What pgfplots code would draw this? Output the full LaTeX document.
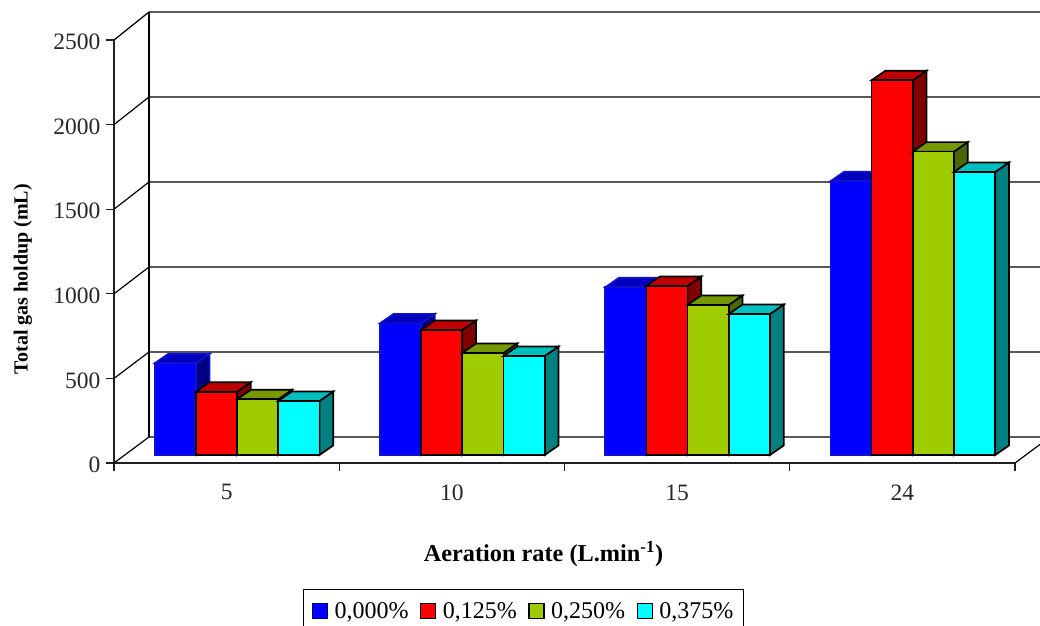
\documentclass[border=0pt]{standalone}
\usepackage{fontspec}
\setmainfont{Liberation Serif}
\usepackage{pgfplots}
\usepackage{pgfplotstable}
\pgfplotsset{compat=1.18}

\definecolor{blueF}{HTML}{0000FF}\definecolor{blueT}{HTML}{0000BF}\definecolor{blueS}{HTML}{000080}\definecolor{blueE}{HTML}{1010D0}
\definecolor{redF}{HTML}{FF0000}\definecolor{redT}{HTML}{BF0000}\definecolor{redS}{HTML}{800000}
\definecolor{greenF}{HTML}{9ECC00}\definecolor{greenT}{HTML}{769900}\definecolor{greenS}{HTML}{4F6600}
\definecolor{cyanF}{HTML}{00FFFF}\definecolor{cyanT}{HTML}{00BFBF}\definecolor{cyanS}{HTML}{008080}
\definecolor{axisline}{HTML}{202020}

% Total gas holdup (mL) per aeration rate and concentration
\pgfplotstableread{
cat  sa    sb    sc    sd
0    542   374   329   319
1    778   739   603   585
2    991   999   887   833
3    1618  2215  1793  1673
}\holdup

\newdimen\barheight
% Prism mark: #1 name, #2 left offset of the front face, #3 front, #4 top, #5 side, #6 edge colour.
% Front face stands 10.4/8 units inside the floor; 41.2 wide, 13.7/9.5 deep.
\newcommand\declareprism[6]{%
  \pgfdeclareplotmark{#1}{%
    \pgfmathfloatparsenumber{\barval}%
    \pgfmathfloattofixed{\pgfmathresult}%
    \barheight=\pgfmathresult pt\relax
    \barheight=0.1692\barheight
    \edef\prismbase{\the\dimexpr 8pt-\barheight\relax}%
    \edef\prismxl{\the\dimexpr #2pt+10.4pt\relax}%
    \edef\prismxr{\the\dimexpr #2pt+51.6pt\relax}%
    \edef\prismxlb{\the\dimexpr #2pt+24.1pt\relax}%
    \edef\prismxrb{\the\dimexpr #2pt+65.3pt\relax}%
    \edef\prismbk{\the\dimexpr \prismbase+9.5pt\relax}%
    \pgfsetlinewidth{1.7pt}%
    \pgfsetstrokecolor{#6}%
    \pgfsetfillcolor{#5}%
    \pgfpathmoveto{\pgfqpoint{\prismxr}{\prismbase}}%
    \pgfpathlineto{\pgfqpoint{\prismxrb}{\prismbk}}%
    \pgfpathlineto{\pgfqpoint{\prismxrb}{17.5pt}}%
    \pgfpathlineto{\pgfqpoint{\prismxr}{8pt}}%
    \pgfpathclose
    \pgfusepath{fill,stroke}%
    \pgfsetfillcolor{#4}%
    \pgfpathmoveto{\pgfqpoint{\prismxl}{8pt}}%
    \pgfpathlineto{\pgfqpoint{\prismxlb}{17.5pt}}%
    \pgfpathlineto{\pgfqpoint{\prismxrb}{17.5pt}}%
    \pgfpathlineto{\pgfqpoint{\prismxr}{8pt}}%
    \pgfpathclose
    \pgfusepath{fill,stroke}%
    \pgfsetfillcolor{#3}%
    \pgfpathmoveto{\pgfqpoint{\prismxl}{\prismbase}}%
    \pgfpathlineto{\pgfqpoint{\prismxr}{\prismbase}}%
    \pgfpathlineto{\pgfqpoint{\prismxr}{8pt}}%
    \pgfpathlineto{\pgfqpoint{\prismxl}{8pt}}%
    \pgfpathclose
    \pgfusepath{fill,stroke}%
  }%
}
\declareprism{prismA}{-82.35}{blueF}{blueT}{blueS}{blueE}
\declareprism{prismB}{-41.15}{redF}{redT}{redS}{black}
\declareprism{prismC}{0.05}{greenF}{greenT}{greenS}{black}
\declareprism{prismD}{41.25}{cyanF}{cyanT}{cyanS}{black}

\pgfplotsset{
  swatch/.style n args={2}{
    legend image code/.code={
      \draw[fill=#1,draw=#2,line width=1.2pt] (0pt,-7.5pt) rectangle (15pt,7.5pt);
    }
  },
  prism/.style={only marks,scatter,mark=#1,visualization depends on={y \as \barval}},
}

\begin{document}
\begin{tikzpicture}[x=1pt,y=1pt]
\begin{axis}[
  at={(114pt,162pt)},anchor=south west,
  scale only axis,width=901pt,height=423pt,
  xmin=-0.5,xmax=3.5,ymin=0,ymax=2500,
  clip=false,
  axis x line=bottom,axis y line=left,
  axis line style={-,draw=axisline,line width=1.3pt},
  xtick={0,1,2,3},xticklabels={5,10,15,24},
  minor xtick={-0.5,0.5,1.5,2.5,3.5},
  ytick={0,500,1000,1500,2000,2500},
  tick align=outside,
  major tick length=8pt,minor tick length=8pt,
  x tick style={draw=none},
  minor x tick style={draw=axisline,line width=1.2pt},
  y tick style={draw=axisline,line width=1.2pt},
  tick label style={font=\fontsize{23.5}{26}\selectfont,text=black!85},
  x tick label style={yshift=-10pt},
  y tick label style={xshift=-2pt,yshift=-2pt},
  /pgf/number format/assume math mode=true,
  /pgf/number format/1000 sep={},
  xlabel={\textbf{Aeration rate (L.min\textsuperscript{-1})}},
  ylabel={\textbf{Total gas holdup (mL)}},
  xlabel style={font=\fontsize{24.3}{26}\selectfont,at={(axis description cs:0.4767,-0.2152)},anchor=center},
  ylabel style={font=\fontsize{20}{26}\selectfont,at={(axis description cs:-0.101,0.4345)},anchor=center,rotate=0},
  legend columns=4,
  legend cell align=left,
  legend style={
    at={(axis description cs:0.2098,-0.2979)},anchor=north west,
    draw=black,line width=1pt,
    font=\fontsize{24}{26}\selectfont,
    inner xsep=8.5pt,inner ysep=11pt,
    /tikz/every odd column/.style={column sep=4.5pt},
    /tikz/every even column/.style={column sep=9.5pt},
  },
]
% Floor and walls of the box behind the bars
\draw[black,line width=1.2pt] (axis cs:-0.5,0) -- ++(35pt,26pt) -- ++(891pt,0pt);
\draw[black,line width=1.2pt] (axis cs:-0.5,0) ++(35pt,26pt) -- ++(0pt,425pt);
\draw[black,line width=1.2pt] (axis cs:3.5,0) -- ++(25pt,18.6pt);
\draw[black,line width=1.2pt] (axis cs:-0.5,500) -- ++(35pt,26.4pt) -- ++(891pt,0pt);
\draw[black,line width=1.2pt] (axis cs:-0.5,1000) -- ++(35pt,26.8pt) -- ++(891pt,0pt);
\draw[black,line width=1.2pt] (axis cs:-0.5,1500) -- ++(35pt,27.2pt) -- ++(891pt,0pt);
\draw[black,line width=1.2pt] (axis cs:-0.5,2000) -- ++(35pt,27.6pt) -- ++(891pt,0pt);
\draw[black,line width=1.2pt] (axis cs:-0.5,2500) -- ++(35pt,28pt) -- ++(891pt,0pt);
\addplot[prism=prismA,swatch={blueF}{blueS}] table[x=cat,y=sa] {\holdup};
\addlegendentry{0,000\%}
\addplot[prism=prismB,swatch={redF}{black}] table[x=cat,y=sb] {\holdup};
\addlegendentry{0,125\%}
\addplot[prism=prismC,swatch={greenF}{black}] table[x=cat,y=sc] {\holdup};
\addlegendentry{0,250\%}
\addplot[prism=prismD,swatch={cyanF}{black}] table[x=cat,y=sd] {\holdup};
\addlegendentry{0,375\%}
\end{axis}
\pgfresetboundingbox
\path[use as bounding box] (0,0) rectangle (1040pt,625pt);
\end{tikzpicture}
\end{document}
